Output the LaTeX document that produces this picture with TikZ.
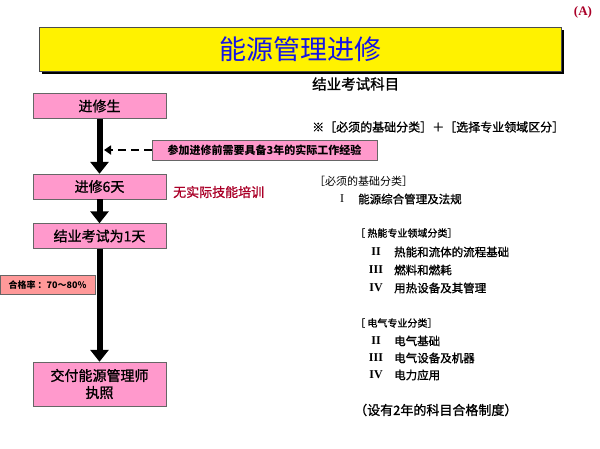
\documentclass[tikz,border=0pt]{standalone}
\usepackage{fontspec}
\setmainfont{Liberation Serif}
\newfontfamily\cjk{Noto Sans CJK SC}
\newfontfamily\cjkm[FakeBold=1.2]{Noto Sans CJK SC}
\usetikzlibrary{arrows.meta, positioning, shadows}
\definecolor{boxpink}{RGB}{255,153,204}
\definecolor{passred}{RGB}{255,153,153}
\definecolor{darkred}{RGB}{170,0,40}
\definecolor{titleblue}{RGB}{20,20,230}

\begin{document}
\begin{tikzpicture}[x=1pt, y=-1pt,
  stepbox/.style={draw=black!60, fill=boxpink, minimum width=133pt, minimum height=25pt,
    inner sep=1pt, font=\cjkm\fontsize{14}{17}\selectfont, align=center},
  bigarrow/.style={line width=6pt, -{Triangle[width=18pt, length=12pt]}},
  dasharrow/.style={line width=2pt, dash pattern=on 8pt off 5pt, -{Triangle[width=9pt, length=7pt]}},
  txt/.style={anchor=west, inner sep=0pt, font=\cjkm\fontsize{11.5}{14}\selectfont},
  numtxt/.style={inner sep=0pt, font=\bfseries\fontsize{12}{14}\selectfont}]
  \useasboundingbox (0,0) rectangle (600,448);

  % title
  \node[draw=black!70, fill=yellow, minimum width=522pt, minimum height=44pt,
    drop shadow={shadow xshift=2.5pt, shadow yshift=-2.5pt, fill=black, opacity=1},
    text=titleblue, font=\cjk\fontsize{27}{30}\selectfont] (title) at (300,49) {能源管理进修};
  \node[text=darkred, font=\bfseries\fontsize{13}{15}\selectfont] (tag) at (583,12) {(A)};

  % flow on the left
  \node[stepbox] (student) at (99.5,106) {进修生};
  \node[stepbox] (course) at (99.5,186.5) {进修6天};
  \node[stepbox] (exam) at (99.5,236) {结业考试为1天};
  \node[stepbox, minimum height=44pt, inner sep=2pt] (license) at (99.5,384) {交付能源管理师\\执照};
  \draw[bigarrow] (student) -- (course);
  \draw[bigarrow] (course) -- (exam);
  \draw[bigarrow] (exam) -- (license);

  \node[draw=black!60, fill=boxpink, minimum width=225pt, minimum height=20pt, inner sep=1pt,
    font=\cjk\bfseries\fontsize{11}{13}\selectfont] (req) at (264.5,150) {参加进修前需要具备3年的实际工作经验};
  \coordinate (reqend) at (104,150);
  \draw[dasharrow] (req) -- (reqend);

  \node[txt, text=darkred, font=\cjkm\fontsize{13}{15}\selectfont] (noskill) at (173,192) {无实际技能培训};
  \node[draw=black!60, fill=passred, minimum width=95pt, minimum height=19pt, inner sep=1pt,
    font=\cjk\bfseries\fontsize{9}{11}\selectfont] (pass) at (47.5,285) {合格率 ：70～80\%};

  % subjects on the right
  \node[txt, font=\cjkm\fontsize{14.5}{17}\selectfont] (subj) at (312,84) {结业考试科目};
  \node[txt, font=\cjkm\fontsize{12}{14}\selectfont] (formula) at (312,127) {※［必须的基础分类］＋［选择专业领域区分］};
  \node[txt, font=\cjk\fontsize{11}{13}\selectfont] (basic) at (314,181) {［必须的基础分类］};
  \node[numtxt, font=\fontsize{12}{14}\selectfont] (basicI) at (342,199) {I};
  \node[txt] (basicItxt) at (358,199) {能源综合管理及法规};

  \node[txt, font=\cjkm\fontsize{10}{12}\selectfont] (heat) at (355,233) {［ 热能专业领域分类］};
  \foreach \y/\n/\t in {252/II/热能和流体的流程基础, 270/III/燃料和燃耗, 288/IV/用热设备及其管理} {
    \node[numtxt] (heat\n) at (376,\y) {\n};
    \node[txt] (heat\n txt) at (394,\y) {\t};
  }

  \node[txt, font=\cjkm\fontsize{10}{12}\selectfont] (elec) at (355,323) {［ 电气专业分类］};
  \foreach \y/\n/\t in {341/II/电气基础, 358/III/电气设备及机器, 375/IV/电力应用} {
    \node[numtxt] (elec\n) at (376,\y) {\n};
    \node[txt] (elec\n txt) at (394,\y) {\t};
  }

  \node[txt, font=\cjkm\fontsize{13}{15}\selectfont] (twoyear) at (354,410) {（设有2年的科目合格制度）};
\end{tikzpicture}
\end{document}
